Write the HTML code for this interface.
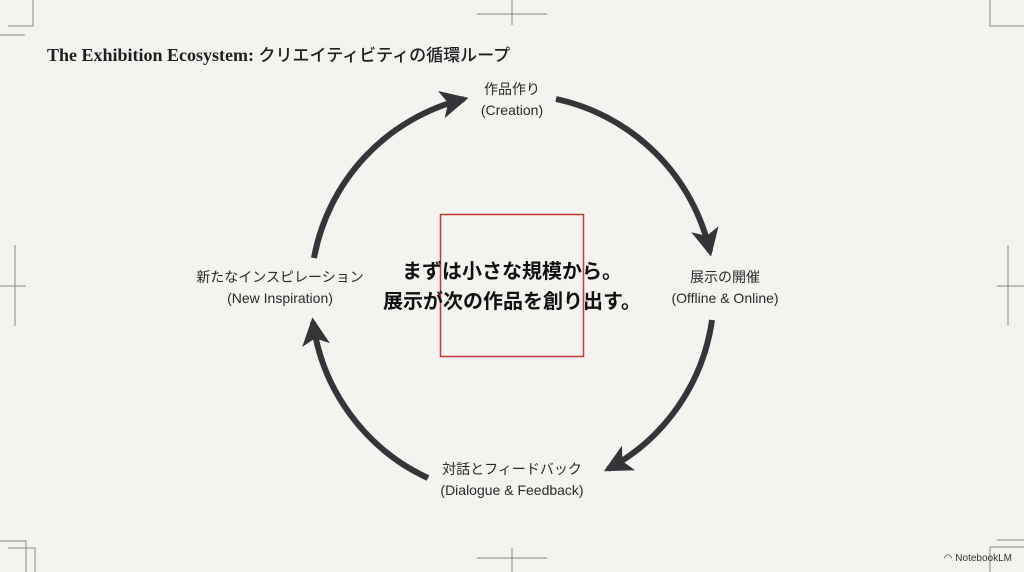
<!DOCTYPE html>
<html><head><meta charset="utf-8"><style>
body{margin:0;width:1024px;height:572px;background:#f3f3f0;position:relative;overflow:hidden;font-family:"Liberation Sans","Noto Sans CJK JP",sans-serif;color:#2a2a2a}
.t{position:absolute;left:47px;top:41px;font-family:"Liberation Serif","Noto Sans CJK JP",serif;font-size:18px;font-weight:bold;color:#1e1e1e;white-space:nowrap}
.t span{font-family:"Noto Sans CJK JP",sans-serif;font-weight:500;font-size:17px}
.l{position:absolute;text-align:center;font-size:14px;line-height:21px;white-space:nowrap;transform:translateX(-50%);color:#2a2a2a}
.c{position:absolute;left:512px;top:257px;transform:translateX(-50%);text-align:center;font-size:20px;font-weight:bold;line-height:30px;white-space:nowrap;color:#111}
</style></head><body>
<svg width="1024" height="572" style="position:absolute;left:0;top:0">
<defs><marker id="a" markerUnits="userSpaceOnUse" markerWidth="28" markerHeight="28" refX="20" refY="12" orient="auto" viewBox="0 0 24 24"><path d="M0,0 L24,12 L0,24 L6,12 Z" fill="#333538"/></marker></defs>
<g fill="none" stroke="#333538" stroke-width="6">
<path d="M314,258 A201,201 0 0 1 464,99" marker-end="url(#a)"/>
<path d="M556,99 A201,201 0 0 1 710,252" marker-end="url(#a)"/>
<path d="M712,320 A201,201 0 0 1 608,469" marker-end="url(#a)"/>
<path d="M428,478 A201,201 0 0 1 313,322" marker-end="url(#a)"/>
</g>
<rect x="440.5" y="214.5" width="143" height="142" fill="none" stroke="#c8353a" stroke-width="1.5"/>
<g stroke="#888" stroke-width="1" fill="none">
<path d="M33,0 V26 H8 M25,35 H0"/>
<path d="M512,0 V25 M477,14 H547"/>
<path d="M15,245 V326 M0,286 H26"/>
<path d="M1008,245 V326 M997,286 H1024"/>
<path d="M512,548 V572 M477,558 H547"/>
<path d="M35,572 V548 H8 M26,572 V541 H0"/>
<path d="M990,572 V547 H1024 M997,540 H1024 M990,0 V26 H1024"/>
</g>
</svg>
<div class="t">The Exhibition Ecosystem: <span>クリエイティビティの循環ループ</span></div>
<div class="l" style="left:512px;top:79px">作品作り<br>(Creation)</div>
<div class="l" style="left:725px;top:267px">展示の開催<br>(Offline &amp; Online)</div>
<div class="l" style="left:512px;top:459px">対話とフィードバック<br>(Dialogue &amp; Feedback)</div>
<div class="l" style="left:280px;top:267px">新たなインスピレーション<br>(New Inspiration)</div>
<div class="c">まずは小さな規模から。<br>展示が次の作品を創り出す。</div>
<div style="position:absolute;right:12px;top:553px;font-size:10px;color:#333">◠ NotebookLM</div>
</body></html>
